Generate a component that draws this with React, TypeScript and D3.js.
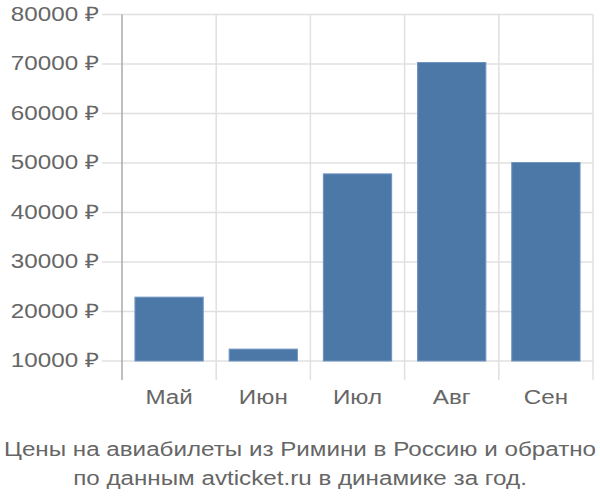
import * as d3 from "d3";
import React, { RefObject, useEffect, useRef } from "react";

const months = ["Май", "Июн", "Июл", "Авг", "Сен"];
const prices = [22900, 12400, 47800, 70300, 50100];
const yTicks = [10000, 20000, 30000, 40000, 50000, 60000, 70000, 80000];
const titleLines = [
  "Цены на авиабилеты из Римини в Россию и обратно",
  "по данным avticket.ru в динамике за год.",
];

const width = 600;
const height = 500;
// text in the original is drawn a bit wider than the font's natural width
const stretch = 1.21;

const App = () => {
  const d3Ref: RefObject<HTMLDivElement> = useRef(null);

  useEffect(() => {
    const left = 122;
    const right = 593;
    const top = 14.5;
    const base = 361;
    const bottom = 380;
    const font = "'Liberation Sans', Arial, sans-serif";

    d3.select(d3Ref.current).selectAll("*").remove();
    const svg = d3
      .select(d3Ref.current)
      .append("svg")
      .attr("width", width)
      .attr("height", height)
      .style("position", "absolute")
      .style("left", "0px")
      .style("top", "0px")
      .style("font-family", font);

    const xScale = d3.scaleBand().domain(months).range([left, right]);
    const yScale = d3.scaleLinear().domain([10000, 80000]).range([base, top]);
    const barWidth = xScale.bandwidth() * 0.725;

    const grid = svg.append("g");
    // horizontal grid + tick stubs
    grid
      .selectAll("line.h")
      .data(yTicks)
      .enter()
      .append("line")
      .attr("class", "h")
      .attr("x1", left - 20)
      .attr("x2", right)
      .attr("y1", (d) => yScale(d))
      .attr("y2", (d) => yScale(d))
      .attr("stroke", "#e0e0e0")
      .attr("stroke-width", 1.5);

    // vertical grid lines at band edges
    const edges = months.map((m) => xScale(m) as number).concat([right]);
    grid
      .selectAll("line.v")
      .data(edges.slice(1))
      .enter()
      .append("line")
      .attr("class", "v")
      .attr("x1", (d) => d)
      .attr("x2", (d) => d)
      .attr("y1", top)
      .attr("y2", bottom)
      .attr("stroke", "#e0e0e0")
      .attr("stroke-width", 1.5);

    // bars
    svg
      .append("g")
      .selectAll("rect")
      .data(prices)
      .enter()
      .append("rect")
      .attr("x", (d, i) => (xScale(months[i]) as number) + (xScale.bandwidth() - barWidth) / 2)
      .attr("width", barWidth)
      .attr("y", (d) => yScale(d))
      .attr("height", (d) => base - yScale(d))
      .attr("fill", "#4c78a8")
      .attr("stroke", "#7094c0")
      .attr("stroke-width", 1);

    // y axis line
    svg
      .append("line")
      .attr("x1", left)
      .attr("x2", left)
      .attr("y1", top)
      .attr("y2", bottom)
      .attr("stroke", "#aaaaaa")
      .attr("stroke-width", 1.5);

    // y labels
    svg
      .append("g")
      .selectAll("text")
      .data(yTicks)
      .enter()
      .append("text")
      .attr("transform", (d) => `translate(99,${yScale(d)}) scale(${stretch},1)`)
      .attr("dy", "0.31em")
      .attr("text-anchor", "end")
      .attr("font-size", 20)
      .attr("fill", "#666")
      .text((d) => `${d} ₽`);

    // x labels
    svg
      .append("g")
      .selectAll("text")
      .data(months)
      .enter()
      .append("text")
      .attr(
        "transform",
        (d) => `translate(${(xScale(d) as number) + xScale.bandwidth() / 2},404) scale(${stretch},1)`
      )
      .attr("text-anchor", "middle")
      .attr("font-size", 20)
      .attr("fill", "#666")
      .text((d) => d);

    // title
    svg
      .append("g")
      .selectAll("text")
      .data(titleLines)
      .enter()
      .append("text")
      .attr("transform", (d, i) => `translate(${width / 2},${456 + i * 29}) scale(${stretch},1)`)
      .attr("text-anchor", "middle")
      .attr("font-size", 20)
      .attr("fill", "#666")
      .text((d) => d);
  }, [d3Ref]);

  return <div ref={d3Ref} />;
};

export default App;
